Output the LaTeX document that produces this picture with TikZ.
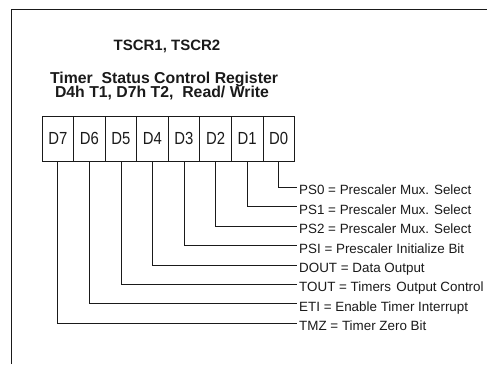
\documentclass[tikz,border=0pt]{standalone}
\usepackage{fontspec}
\setmainfont{Liberation Sans}
\newfontfamily\cellfont{Liberation Sans}[FakeStretch=0.85]
\usetikzlibrary{positioning}
\definecolor{regInk}{HTML}{1A1A1A}
\tikzset{
  every picture/.style={text=regInk},
  reg frame/.style={draw=regInk, line width=0.8pt},
  reg cell/.style={draw=regInk, line width=0.7pt, minimum width=31.55pt,
    minimum height=45.7pt, inner sep=0pt,
    font=\cellfont\fontsize{17.5}{20}\selectfont},
  reg title/.style={anchor=base, inner sep=0pt,
    font=\bfseries\fontsize{15}{18}\selectfont},
  reg name/.style={anchor=base, inner sep=0pt,
    font=\bfseries\fontsize{15.8}{18}\selectfont},
  reg wire/.style={draw=regInk, line width=0.8pt},
  reg label/.style={anchor=base west, inner xsep=2pt, inner ysep=0pt,
    font=\fontsize{13.4}{16}\selectfont}
}

\begin{document}
\begin{tikzpicture}[x=1pt,y=-1pt]
  \useasboundingbox (0,0) rectangle (487,364);
  % open frame, cut by the page
  \draw[reg frame] (11,364) -- (11,9.5) -- (487,9.5);
  \node[reg title] (title) at (167,50.7) {TSCR1, TSCR2};
  \node[reg name] (regname) at (164,83.3) {Timer\ \ Status Control Register};
  \node[reg name] (regaddr) at (162,97.7) {D4h T1, D7h T2,\ \ Read/ Write};
  % register bits
  \foreach \b [count=\i from 0] in {7,6,5,4,3,2,1,0}
    \node[reg cell] (b\b) at ({57.8+31.55*\i},138.85) {D\b};
  % bit descriptions
  \foreach \b/\txt in {0/{PS0 = Prescaler Mux. Select},
                       1/{PS1 = Prescaler Mux. Select},
                       2/{PS2 = Prescaler Mux. Select},
                       3/{PSI = Prescaler Initialize Bit},
                       4/{DOUT = Data Output},
                       5/{TOUT = Timers\hspace{0.12em} Output Control},
                       6/{ETI = Enable Timer Interrupt},
                       7/{TMZ = Timer Zero Bit}} {
    \node[reg label] (l\b) at (297,{194.8+19.43*\b}) {\txt};
    \draw[reg wire] (b\b.south) |- ([yshift=7.5pt]l\b.base west);
  }
\end{tikzpicture}
\end{document}
